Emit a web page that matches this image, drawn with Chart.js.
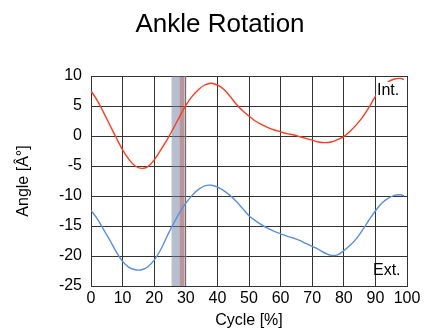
<!DOCTYPE html>
<html>
<head>
<meta charset="utf-8">
<script src="https://cdn.jsdelivr.net/npm/chart.js@4/dist/chart.umd.min.js"></script>
<style>
  html, body { margin: 0; padding: 0; background: #fff; }
  #wrap { width: 435px; height: 330px; }
</style>
</head>
<body>
<div id="wrap"><canvas id="ankleChart" width="435" height="330"></canvas></div>
<script>
// gait cycle in percent
const cycle = [0, 2, 4, 6, 8, 10, 12, 14, 16, 18, 20, 22, 24, 26, 28, 30, 32, 34, 36, 38, 40,
  42, 44, 46, 48, 50, 52, 54, 56, 58, 60, 62, 64, 66, 68, 70, 72, 74, 76, 78, 80,
  82, 84, 86, 88, 90, 92, 94, 96, 98, 99];

// internal rotation (red)
const intRot = [7.5, 5.9, 3.9, 1.8, -0.3, -2.3, -3.9, -5.0, -5.4, -5.1, -4.0, -2.4, -0.7, 1.2, 3.2, 5.1, 6.6, 7.7, 8.5, 8.8, 8.5,
  7.8, 6.6, 5.3, 4.2, 3.3, 2.5, 1.9, 1.4, 1.0, 0.7, 0.4, 0.2, -0.1, -0.4, -0.7, -1.0, -1.1, -1.0, -0.6, -0.1,
  0.8, 1.9, 3.2, 4.8, 6.6, 8.0, 9.0, 9.5, 9.6, 9.4];

// external rotation (blue)
const extRot = [-12.4, -13.8, -15.6, -17.4, -19.3, -20.9, -21.9, -22.3, -22.3, -21.8, -20.7, -19.0, -16.8, -14.7, -12.8, -11.2, -9.9, -8.9, -8.3, -8.2, -8.5,
  -9.1, -9.9, -10.9, -12.1, -13.3, -14.1, -14.8, -15.4, -15.9, -16.3, -16.7, -17.0, -17.4, -17.9, -18.4, -18.9, -19.5, -19.9, -19.8, -19.1,
  -18.2, -17.1, -15.6, -14.0, -12.5, -11.2, -10.4, -9.9, -9.8, -10.0];

// shaded bands around toe-off [from, to, colour]
const bands = [
  [25.5, 28.0, 'rgba(110,128,160,0.5)'],
  [28.0, 29.6, 'rgba(140,80,90,0.6)'],
  [29.6, 30.2, 'rgba(170,170,170,0.5)']
];

const xTicks = [0, 10, 20, 30, 40, 50, 60, 70, 80, 90, 100];
const yTicks = [10, 5, 0, -5, -10, -15, -20, -25];

const FONT = "'Liberation Sans', Arial, sans-serif";

function pts(ys) {
  return cycle.map((x, i) => ({ x: x, y: ys[i] }));
}

const bandPlugin = {
  id: 'bands',
  beforeDatasetsDraw(chart) {
    const { ctx, chartArea, scales } = chart;
    ctx.save();
    bands.forEach(b => {
      const x1 = scales.x.getPixelForValue(b[0]);
      const x2 = scales.x.getPixelForValue(b[1]);
      ctx.fillStyle = b[2];
      ctx.fillRect(x1, chartArea.top, x2 - x1, chartArea.bottom - chartArea.top);
    });
    ctx.restore();
  }
};

// title and the Int./Ext. side labels
const textPlugin = {
  id: 'texts',
  afterDatasetsDraw(chart) {
    const { ctx, chartArea } = chart;
    ctx.save();
    ctx.fillStyle = '#000';
    ctx.font = '26px ' + FONT;
    ctx.textAlign = 'center';
    ctx.textBaseline = 'alphabetic';
    ctx.fillText('Ankle Rotation', 220, 32);

    ctx.textAlign = 'left';
    ctx.textBaseline = 'middle';
    ctx.font = '16px ' + FONT;
    ctx.fillStyle = '#fff';
    ctx.fillRect(chartArea.right - 31, chartArea.top + 6, 25, 18);
    ctx.fillStyle = '#000';
    ctx.fillText('Int.', chartArea.right - 30, chartArea.top + 15);
    ctx.fillText('Ext.', chartArea.right - 34, chartArea.bottom - 15);
    ctx.restore();
  }
};

new Chart(document.getElementById('ankleChart').getContext('2d'), {
  type: 'line',
  data: {
    datasets: [{
      label: 'Int.',
      data: pts(intRot),
      borderColor: '#ff3b1f',
      borderWidth: 1.4,
      pointRadius: 0,
      tension: 0.4,
      fill: false
    }, {
      label: 'Ext.',
      data: pts(extRot),
      borderColor: '#5b8fdc',
      borderWidth: 1.4,
      pointRadius: 0,
      tension: 0.4,
      fill: false
    }]
  },
  options: {
    responsive: false,
    animation: false,
    layout: { padding: { left: 8, right: 28, top: 76, bottom: 0 } },
    plugins: {
      legend: { display: false },
      tooltip: { enabled: false },
      title: { display: false }
    },
    scales: {
      x: {
        type: 'linear',
        min: 0,
        max: 100,
        afterBuildTicks: s => { s.ticks = xTicks.map(v => ({ value: v })); },
        afterFit: s => { s.height = 44; },
        ticks: { color: '#000', font: { family: FONT, size: 16 }, padding: 3, maxRotation: 0 },
        grid: { color: '#333', drawTicks: false },
        border: { color: '#333' },
        title: { display: true, text: 'Cycle [%]', color: '#000', font: { family: FONT, size: 16 }, padding: { top: 0, bottom: 0 } }
      },
      y: {
        min: -25,
        max: 10,
        afterBuildTicks: s => { s.ticks = yTicks.map(v => ({ value: v })); },
        afterFit: s => { s.width = 83; },
        ticks: { color: '#000', font: { family: FONT, size: 16 }, padding: 9 },
        grid: { color: '#333', drawTicks: false },
        border: { color: '#333' },
        title: { display: true, text: 'Angle [Â°]', color: '#000', font: { family: FONT, size: 16 }, padding: { top: 6, bottom: 0 } }
      }
    }
  },
  plugins: [bandPlugin, textPlugin]
});
</script>
</body>
</html>
